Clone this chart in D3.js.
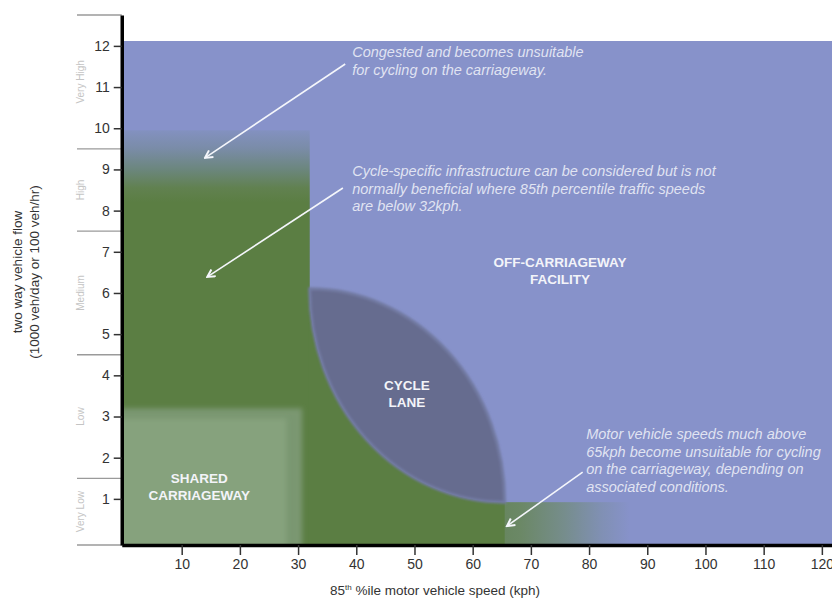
<!DOCTYPE html>
<html lang="en">
<head>
  <meta charset="UTF-8">
  <title>Cycle provision by speed and flow</title>
  <script src="https://d3js.org/d3.v7.min.js" charset="utf-8"></script>
  <style>
    body {
      margin: 0;
      background: #fff;
      font-family: 'Liberation Sans', Arial, sans-serif;
    }
    svg { display: block; }
    .tick text { font-size: 14px; fill: #333; }
    .tick line { stroke: #333; stroke-width: 1.5; }
    .note { font-style: italic; font-size: 14.5px; fill: #eef0f8; fill-opacity: .88; }
    .zone { font-weight: bold; font-size: 13.5px; fill: #f3f4f9; text-anchor: middle; }
  </style>
</head>
<body>
  <div id="wrapper"></div>
  <script>
    const speedTicks = [10, 20, 30, 40, 50, 60, 70, 80, 90, 100, 110, 120]
    const flowTicks = [1, 2, 3, 4, 5, 6, 7, 8, 9, 10, 11, 12]
    const bandNames = ["Very Low", "Low", "Medium", "High", "Very High"]
    const bandBreaks = [-0.12, 1.5, 4.5, 7.5, 9.5, 12.75]

    // zone outlines, as [kph, 1000 veh/day]
    const plotTop = 12.12
    const congestedCorner = [32, 9.95]
    const fadeBottom = 8.2
    const laneTop = [32, 6.1]
    const laneEnd = [65.5, 0.92]
    const tailStrip = [62, 87, 0.92]
    const sharedOuter = [30.7, 3.2]
    const sharedInner = [28, 2.95]

    const zoneLabels = [
      { lines: ["OFF-CARRIAGEWAY", "FACILITY"], at: [75, 6.63] },
      { lines: ["CYCLE", "LANE"], at: [48.7, 3.64] },
      { lines: ["SHARED", "CARRIAGEWAY"], at: [13, 1.39] }
    ]

    const notes = [
      {
        lines: ["Congested and becomes unsuitable", "for cycling on the carriageway."],
        at: [39.3, 11.73], from: [38.1, 11.56], to: [14.0, 9.28]
      },
      {
        lines: ["Cycle-specific infrastructure can be considered but is not",
          "normally beneficial where 85th percentile traffic speeds", "are below 32kph."],
        at: [39.3, 8.84], from: [37.7, 8.55], to: [14.4, 6.39]
      },
      {
        lines: ["Motor vehicle speeds much above", "65kph become unsuitable for cycling",
          "on the carriageway, depending on", "associated conditions."],
        at: [79.5, 2.45], from: [78.9, 1.65], to: [65.9, 0.34]
      }
    ]

    const colors = {
      blue: "#8792ca",
      green: "#5b7e43",
      lane: "#666c8f",
      sharedOuter: "#7a9771",
      sharedInner: "#86a27d"
    }

    const dimensions = {
      width: 832,
      height: 601,
      margin: { top: 15, right: 0, bottom: 56, left: 122 }
    }

    const svg = d3.select("#wrapper")
      .append("svg")
        .attr("width", dimensions.width)
        .attr("height", dimensions.height)

    const xScale = d3.scaleLinear()
      .domain([-0.3, 122])
      .range([121.75, 833.5])

    const yScale = d3.scaleLinear()
      .domain([bandBreaks[0], bandBreaks[bandBreaks.length - 1]])
      .range([dimensions.height - dimensions.margin.bottom, dimensions.margin.top])

    const defs = svg.append("defs")

    defs.append("clipPath").attr("id", "plot")
      .append("rect")
        .attr("x", xScale(-0.3))
        .attr("y", yScale(plotTop))
        .attr("width", dimensions.width)
        .attr("height", yScale(bandBreaks[0]) - yScale(plotTop))

    defs.append("filter").attr("id", "soft")
      .append("feGaussianBlur").attr("stdDeviation", 1.3)
    defs.append("filter").attr("id", "softer")
      .attr("x", "-20%").attr("y", "-20%").attr("width", "140%").attr("height", "140%")
      .append("feGaussianBlur").attr("stdDeviation", 2.6)

    const fade = defs.append("linearGradient")
      .attr("id", "fade")
      .attr("gradientUnits", "userSpaceOnUse")
      .attr("x1", 0).attr("x2", 0)
      .attr("y1", yScale(congestedCorner[1]))
      .attr("y2", yScale(fadeBottom))
    fade.selectAll("stop")
      .data([[0, "#8391c0"], [0.25, "#7a8ca8"], [0.55, "#6b867c"], [0.8, "#618150"], [1, colors.green]])
      .join("stop")
        .attr("offset", d => d[0])
        .attr("stop-color", d => d[1])

    const tailFade = defs.append("linearGradient")
      .attr("id", "tailFade")
      .attr("gradientUnits", "userSpaceOnUse")
      .attr("y1", 0).attr("y2", 0)
      .attr("x1", xScale(tailStrip[0]))
      .attr("x2", xScale(tailStrip[1]))
    tailFade.selectAll("stop")
      .data([[0, "#64845a"], [0.25, "#6b8866"], [0.55, "#768d8c"], [0.8, "#8090b3"], [1, colors.blue]])
      .join("stop")
        .attr("offset", d => d[0])
        .attr("stop-color", d => d[1])

    const marker = defs.append("marker")
      .attr("id", "head")
      .attr("viewBox", "0 0 10 10")
      .attr("refX", 8.5).attr("refY", 5)
      .attr("markerWidth", 10).attr("markerHeight", 10)
      .attr("markerUnits", "userSpaceOnUse")
      .attr("orient", "auto")
    marker.append("path")
      .attr("d", "M1,1 L8.5,5 L1,9")
      .attr("fill", "none")
      .attr("stroke", "#f4f6fb")
      .attr("stroke-width", 2)

    const zones = svg.append("g").attr("clip-path", "url(#plot)")

    // off-carriageway background
    zones.append("rect")
      .attr("x", xScale(-0.3))
      .attr("y", yScale(plotTop))
      .attr("width", xScale(122) - xScale(-0.3))
      .attr("height", yScale(bandBreaks[0]) - yScale(plotTop))
      .attr("fill", colors.blue)

    // mixed traffic column, fading out at high flows
    zones.append("rect")
      .attr("x", xScale(-5))
      .attr("y", yScale(congestedCorner[1]))
      .attr("width", xScale(congestedCorner[0]) - xScale(-5))
      .attr("height", yScale(-1) - yScale(congestedCorner[1]))
      .attr("fill", "url(#fade)")

    const rx = xScale(laneEnd[0]) - xScale(laneTop[0])
    const ry = yScale(laneEnd[1]) - yScale(laneTop[1])

    zones.append("rect")
      .attr("x", xScale(tailStrip[0]))
      .attr("y", yScale(tailStrip[2]))
      .attr("width", xScale(tailStrip[1]) - xScale(tailStrip[0]))
      .attr("height", yScale(-1) - yScale(tailStrip[2]))
      .attr("fill", "url(#tailFade)")

    zones.append("path")
      .attr("d", `M${xScale(laneTop[0]) - 1},${yScale(-1)}
        L${xScale(laneTop[0]) - 1},${yScale(laneTop[1])}
        L${xScale(laneTop[0])},${yScale(laneTop[1])}
        A${rx},${ry} 0 0 0 ${xScale(laneEnd[0])},${yScale(laneEnd[1])}
        L${xScale(laneEnd[0])},${yScale(-1)} Z`)
      .attr("fill", colors.green)

    // cycle lane lens between two quarter ellipses
    zones.append("path")
      .attr("d", `M${xScale(laneTop[0])},${yScale(laneTop[1])}
        A${rx},${ry} 0 0 1 ${xScale(laneEnd[0])},${yScale(laneEnd[1])}
        A${rx},${ry} 0 0 1 ${xScale(laneTop[0])},${yScale(laneTop[1])} Z`)
      .attr("fill", colors.lane)
      .attr("stroke", "#727aa2")
      .attr("stroke-width", 3)
      .attr("filter", "url(#soft)")

    // shared carriageway
    zones.append("rect")
      .attr("x", xScale(-5))
      .attr("y", yScale(sharedOuter[1]))
      .attr("width", xScale(sharedOuter[0]) - xScale(-5))
      .attr("height", yScale(-1) - yScale(sharedOuter[1]))
      .attr("fill", colors.sharedOuter)
      .attr("filter", "url(#softer)")
    zones.append("rect")
      .attr("x", xScale(-5))
      .attr("y", yScale(sharedInner[1]))
      .attr("width", xScale(sharedInner[0]) - xScale(-5))
      .attr("height", yScale(-1) - yScale(sharedInner[1]))
      .attr("fill", colors.sharedInner)
      .attr("filter", "url(#softer)")

    // band separators left of the axis
    svg.append("g")
      .selectAll("line")
      .data(bandBreaks)
      .join("line")
        .attr("x1", 77)
        .attr("x2", xScale(-0.3))
        .attr("y1", d => yScale(d))
        .attr("y2", d => yScale(d))
        .attr("stroke", "#9a9a9a")
        .attr("stroke-width", 1.3)

    svg.append("g")
      .selectAll("text")
      .data(bandNames)
      .join("text")
        .attr("transform", (d, i) =>
          `translate(84, ${yScale((bandBreaks[i] + bandBreaks[i + 1]) / 2)}) rotate(-90)`)
        .attr("text-anchor", "middle")
        .attr("font-size", 10)
        .attr("fill", "#c4c4c4")
        .text(d => d)

    const yAxis = svg.append("g")
      .attr("transform", `translate(${xScale(-0.3)}, 0)`)
      .call(d3.axisLeft(yScale).tickValues(flowTicks).tickSize(8).tickPadding(4).tickSizeOuter(0))
    yAxis.select(".domain").attr("stroke", "#000").attr("stroke-width", 3.5)

    const xAxis = svg.append("g")
      .attr("transform", `translate(0, ${yScale(bandBreaks[0])})`)
      .call(d3.axisBottom(xScale).tickValues(speedTicks).tickSize(10).tickPadding(4).tickSizeOuter(0))
    xAxis.select(".domain").attr("stroke", "#000").attr("stroke-width", 3.5)
    svg.selectAll(".tick text").attr("font-family", null).attr("font-size", null)

    const xLabel = svg.append("text")
      .attr("x", 435)
      .attr("y", 595)
      .attr("text-anchor", "middle")
      .attr("font-size", 13.5)
      .attr("fill", "#333")
    xLabel.append("tspan").text("85")
    xLabel.append("tspan").attr("font-size", 8).attr("dy", -5).text("th")
    xLabel.append("tspan").attr("dy", 5).text(" %ile motor vehicle speed (kph)")

    svg.append("text")
      .attr("transform", `translate(0, 272) rotate(-90)`)
      .attr("text-anchor", "middle")
      .attr("font-size", 13.5)
      .attr("fill", "#333")
      .selectAll("tspan")
      .data(["two way vehicle flow", "(1000 veh/day or 100 veh/hr)"])
      .join("tspan")
        .attr("x", 0)
        .attr("y", (d, i) => 22 + i * 17)
        .text(d => d)

    // annotations
    const noteGroups = svg.append("g")
      .selectAll("g")
      .data(notes)
      .join("g")

    noteGroups.append("line")
      .attr("x1", d => xScale(d.from[0]))
      .attr("y1", d => yScale(d.from[1]))
      .attr("x2", d => xScale(d.to[0]))
      .attr("y2", d => yScale(d.to[1]))
      .attr("stroke", "#f4f6fb")
      .attr("stroke-width", 1.6)
      .attr("marker-end", "url(#head)")

    noteGroups.append("text")
      .attr("class", "note")
      .selectAll("tspan")
      .data(d => d.lines.map((line, i) => ({ line, i, at: d.at })))
      .join("tspan")
        .attr("x", d => xScale(d.at[0]))
        .attr("y", d => yScale(d.at[1]) + d.i * 17.5)
        .text(d => d.line)

    svg.append("g")
      .selectAll("text")
      .data(zoneLabels)
      .join("text")
        .attr("class", "zone")
        .selectAll("tspan")
        .data(d => d.lines.map((line, i) => ({ line, i, at: d.at })))
        .join("tspan")
          .attr("x", d => xScale(d.at[0]))
          .attr("y", d => yScale(d.at[1]) + d.i * 17)
          .text(d => d.line)
  </script>
</body>
</html>
